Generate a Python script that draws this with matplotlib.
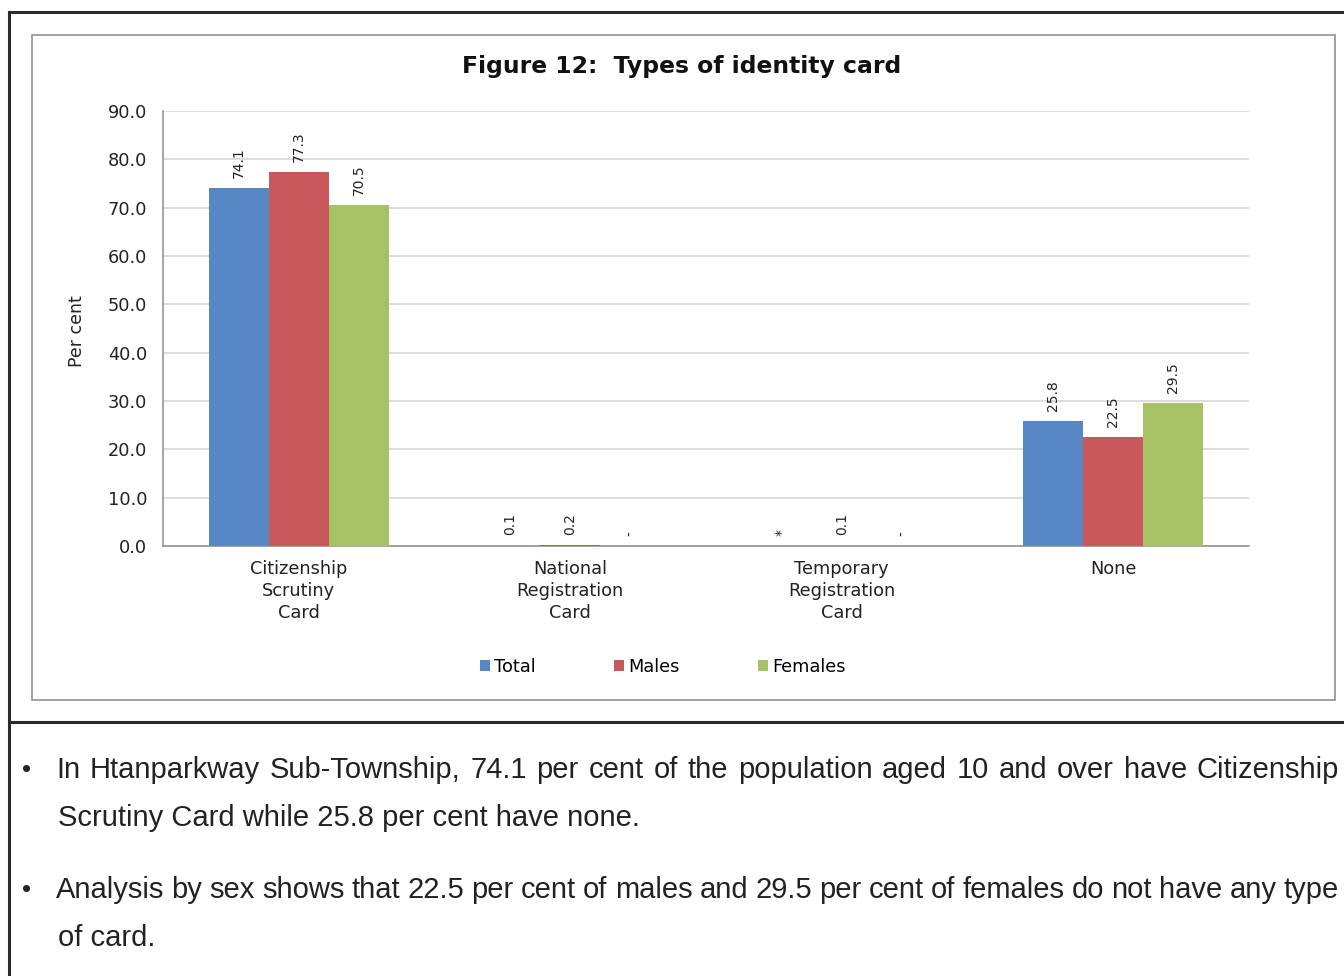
import matplotlib
matplotlib.use("Agg")
import matplotlib.pyplot as plt
from matplotlib.patches import Rectangle, Patch
from matplotlib.lines import Line2D
import numpy as np

plt.rcParams['font.family'] = ['DejaVu Sans']

categories = ["Citizenship\nScrutiny\nCard", "National\nRegistration\nCard",
              "Temporary\nRegistration\nCard", "None"]
series_names = ["Total", "Males", "Females"]
total = [74.1, 0.1, 0.0, 25.8]
males = [77.3, 0.2, 0.1, 22.5]
females = [70.5, 0.0, 0.0, 29.5]
total_labels = ["74.1", "0.1", "*", "25.8"]
males_labels = ["77.3", "0.2", "0.1", "22.5"]
females_labels = ["70.5", "-", "-", "29.5"]
y_ticks = [0, 10, 20, 30, 40, 50, 60, 70, 80, 90]
colors = ["#5787C5", "#C9585A", "#A6C264"]

bullets = [
    ["In Htanparkway Sub-Township, 74.1 per cent of the population aged 10 and over have Citizenship",
     "Scrutiny Card while 25.8 per cent have none."],
    ["Analysis by sex shows that 22.5 per cent of males and 29.5 per cent of females do not have any type",
     "of card."],
]

W, H = 1344, 976
fig = plt.figure(figsize=(W / 100, H / 100), dpi=100)


def fx(px):
    return px / W


def fy(py):
    return 1 - py / H


# page frame
frame = dict(color="#2b2b2b", lw=2.2, transform=fig.transFigure)
fig.add_artist(Line2D([fx(9), fx(9)], [fy(12), 0], **frame))
fig.add_artist(Line2D([fx(9), 1.01], [fy(12), fy(12)], **frame))
fig.add_artist(Line2D([fx(9), 1.01], [fy(722), fy(722)], **frame))

# chart box
fig.add_artist(Rectangle((fx(32), fy(700)), fx(1335 - 32), (700 - 35) / H,
                         transform=fig.transFigure, fill=False,
                         edgecolor="#9a9a9a", lw=1.3))

ax = fig.add_axes([fx(163), fy(546), fx(1249 - 163), (546 - 111) / H])

x = np.arange(len(categories))
bw = 0.221
for i, (vals, labs) in enumerate(zip([total, males, females],
                                     [total_labels, males_labels, females_labels])):
    pos = x + (i - 1) * bw
    ax.bar(pos, vals, width=bw, color=colors[i], zorder=3, label=series_names[i])
    for p, v, lab in zip(pos, vals, labs):
        ax.text(p, v + 2.1, lab, rotation=90, ha="center", va="bottom",
                fontsize=10, color="#222222")

ax.set_xlim(-0.5, len(categories) - 0.5)
ax.set_ylim(0, 90)
ax.set_yticks(y_ticks)
ax.set_yticklabels([f"{t:.1f}" for t in y_ticks], fontsize=12.8, color="#222222")
ax.set_xticks(x)
ax.set_xticklabels(categories, fontsize=12.8, color="#222222", linespacing=1.3)
ax.tick_params(axis="x", length=0, pad=10)
ax.tick_params(axis="y", length=0, pad=11.5)
ax.grid(axis="y", color="#d3d3d3", lw=1.1, zorder=0)
for s in ["top", "right"]:
    ax.spines[s].set_visible(False)
for s in ["left", "bottom"]:
    ax.spines[s].set_color("#8c8c8c")
    ax.spines[s].set_linewidth(1.1)

fig.text(fx(77), fy(331), "Per cent", rotation=90, ha="center", va="center",
         fontsize=12.5, color="#222222")
fig.text(fx(682), fy(67), "Figure 12:  Types of identity card", ha="center",
         va="center", fontsize=16.9, fontweight="bold", color="#111111")

handles = [Patch(facecolor=c, edgecolor="none") for c in colors]
fig.legend(handles, series_names, loc="center", bbox_to_anchor=(fx(663), fy(667)),
           ncol=3, frameon=False, fontsize=12.8, handlelength=0.55, handleheight=0.55,
           handletextpad=0.25, columnspacing=4.4, borderpad=0, borderaxespad=0)

# commentary below the chart (first line of each paragraph justified)
body_font = dict(family="Liberation Sans", fontsize=21, color="#222222")
renderer = fig.canvas.get_renderer()
line_y = [770, 818, 890, 938]
right_edge = 1339
k = 0
for para in bullets:
    fig.text(fx(27), fy(line_y[k]), "\u2022", ha="center", va="center",
             family="Liberation Sans", fontsize=19, color="#222222")
    for j, line in enumerate(para):
        x0 = 56 if j == 0 else 58
        if j == 0:
            words = line.split(" ")
            items = []
            widths = []
            for w in words:
                t = fig.text(0, fy(line_y[k]), w, ha="left", va="center", **body_font)
                widths.append(t.get_window_extent(renderer).width)
                items.append(t)
            gap = (right_edge - x0 - sum(widths)) / (len(words) - 1)
            cx = x0
            for t, wd in zip(items, widths):
                t.set_x(fx(cx))
                cx += wd + gap
        else:
            fig.text(fx(x0), fy(line_y[k]), line, ha="left", va="center", **body_font)
        k += 1

fig.savefig("out.png", dpi=100)
